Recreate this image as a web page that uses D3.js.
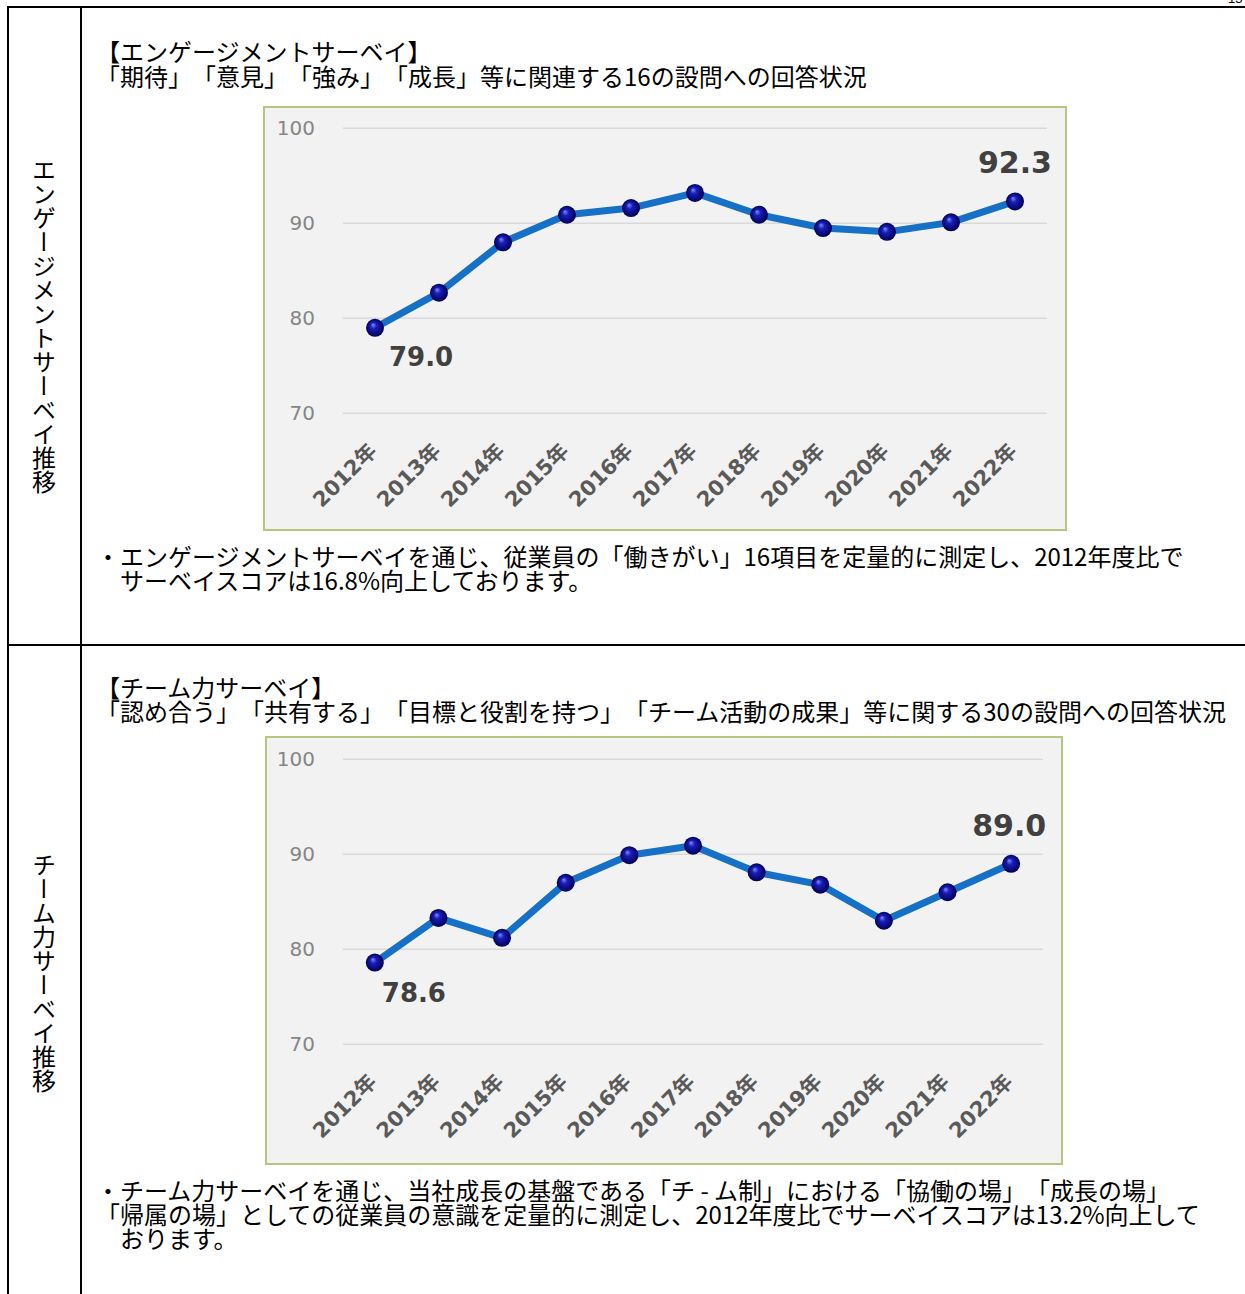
<!DOCTYPE html>
<html>
<head>
<meta charset="utf-8">
<script src="https://cdn.jsdelivr.net/npm/d3@7"></script>
<style>
 body { margin: 0; background: #fff; }
 svg text { font-family: "Noto Sans CJK JP", sans-serif; text-spacing-trim: space-all; }
</style>
</head>
<body>
<script>
 // values
 var years = ['2012年','2013年','2014年','2015年','2016年','2017年','2018年','2019年','2020年','2021年','2022年'];
 var engagementScores = [79.0, 82.7, 88.0, 90.9, 91.6, 93.2, 90.9, 89.5, 89.1, 90.1, 92.3];
 var teamScores = [78.6, 83.3, 81.2, 87.0, 89.9, 90.9, 88.1, 86.8, 83.0, 86.0, 89.0];
 var yTicks = [70, 80, 90, 100];
 var yDomain = [70, 100];

 var W = 1245, H = 1294;
 var lineBlue = '#1670c6';
 var frameGreen = '#b4c680';

 var svg = d3.select('body').append('svg')
     .attr('width', W)
     .attr('height', H);

 var defs = svg.append('defs');
 var grad = defs.append('radialGradient')
     .attr('id', 'ball')
     .attr('cx', '50%').attr('cy', '50%').attr('r', '50%')
     .attr('fx', '38%').attr('fy', '32%');
 grad.append('stop').attr('offset', '0%').attr('stop-color', '#7f8cff');
 grad.append('stop').attr('offset', '35%').attr('stop-color', '#1a1eb8');
 grad.append('stop').attr('offset', '100%').attr('stop-color', '#000055');

 // table frame
 var frame = svg.append('g').attr('stroke', '#000').attr('stroke-width', 2);
 frame.append('line').attr('x1', 7).attr('x2', W).attr('y1', 7).attr('y2', 7);
 frame.append('line').attr('x1', 7).attr('x2', W).attr('y1', 645).attr('y2', 645);
 frame.append('line').attr('x1', 8).attr('x2', 8).attr('y1', 6).attr('y2', H);
 frame.append('line').attr('x1', 81).attr('x2', 81).attr('y1', 6).attr('y2', H);

 // page number, clipped at the top edge like the source page
 svg.append('text').attr('x', 1228).attr('y', 3)
    .style('font-family', 'Liberation Sans').style('font-size', '13px').text('13');

 function vlabel(txt, y) {
     svg.append('text')
	.attr('x', 44).attr('y', y)
	.style('writing-mode', 'vertical-rl')
	.style('font-size', '24px')
	.attr('fill', '#000')
	.text(txt);
 }
 vlabel('エンゲージメントサーベイ推移', 158);
 vlabel('チーム力サーベイ推移', 853);

 function lines(rows) {
     rows.forEach(function(r) {
	 svg.append('text')
	    .attr('x', r[0]).attr('y', r[1])
	    .style('font-size', '24px')
	    .attr('fill', '#000')
	    .text(r[2]);
     });
 }

 lines([
     [96, 61, '【エンゲージメントサーベイ】'],
     [96, 86, '「期待」「意見」「強み」「成長」等に関連する16の設問への回答状況'],
     [96, 566, '・エンゲージメントサーベイを通じ、従業員の「働きがい」16項目を定量的に測定し、2012年度比で'],
     [120, 590, 'サーベイスコアは16.8%向上しております。'],
     [96, 697, '【チーム力サーベイ】'],
     [96, 721, '「認め合う」「共有する」「目標と役割を持つ」「チーム活動の成果」等に関する30の設問への回答状況'],
     [96, 1200, '・チーム力サーベイを通じ、当社成長の基盤である「チ - ム制」における「協働の場」「成長の場」'],
     [96, 1224, '「帰属の場」としての従業員の意識を定量的に測定し、2012年度比でサーベイスコアは13.2%向上して'],
     [120, 1248, 'おります。']
 ]);

 function drawChart(o) {
     var g = svg.append('g');

     g.append('rect')
      .attr('x', o.box[0]).attr('y', o.box[1])
      .attr('width', o.box[2]).attr('height', o.box[3])
      .attr('fill', '#f2f2f2')
      .attr('stroke', frameGreen)
      .attr('stroke-width', 2);

     var x = d3.scaleBand().domain(years).range(o.xRange);
     var y = d3.scaleLinear().domain(yDomain).range(o.yRange);
     var cx = function(d) { return x(d) + x.bandwidth() / 2; };

     // gridlines
     g.selectAll('line.grid')
      .data(yTicks)
      .enter()
      .append('line')
      .attr('class', 'grid')
      .attr('x1', o.xRange[0]).attr('x2', o.xRange[1])
      .attr('y1', function(d) { return y(d); })
      .attr('y2', function(d) { return y(d); })
      .attr('stroke', '#d9d9d9')
      .attr('stroke-width', 1.5);

     var yAxis = g.append('g')
		  .attr('transform', 'translate(' + o.xRange[0] + ',0)')
		  .call(d3.axisLeft(y).tickValues(yTicks).tickSize(0).tickPadding(28));
     yAxis.select('.domain').remove();
     yAxis.selectAll('text')
	  .style('font-family', 'DejaVu Sans')
	  .style('font-size', '20px')
	  .attr('fill', '#858585');

     var xAxis = g.append('g')
		  .attr('transform', 'translate(0,' + (o.yRange[0] + 39) + ')')
		  .call(d3.axisBottom(x).tickSize(0));
     xAxis.select('.domain').remove();
     xAxis.selectAll('text')
	  .attr('x', 0).attr('y', 0).attr('dy', 0)
	  .attr('text-anchor', 'end')
	  .attr('transform', 'translate(3,0) rotate(-45)')
	  .style('font-family', 'DejaVu Sans, Noto Sans CJK JP')
	  .style('font-weight', 'bold')
	  .style('font-size', '21px')
	  .attr('fill', '#5a5a5a');

     var pts = years.map(function(d, i) { return {year: d, v: o.values[i]}; });

     g.append('path')
      .datum(pts)
      .attr('d', d3.line()
		   .x(function(d) { return cx(d.year); })
		   .y(function(d) { return y(d.v); }))
      .attr('fill', 'none')
      .attr('stroke', lineBlue)
      .attr('stroke-width', 7)
      .attr('stroke-linejoin', 'round');

     g.selectAll('circle')
      .data(pts)
      .enter()
      .append('circle')
      .attr('cx', function(d) { return cx(d.year); })
      .attr('cy', function(d) { return y(d.v); })
      .attr('r', 9)
      .attr('fill', 'url(#ball)');

     var first = pts[0], last = pts[pts.length - 1];
     g.append('text')
      .attr('x', cx(first.year) + o.firstOff[0])
      .attr('y', y(first.v) + o.firstOff[1])
      .style('font-family', 'DejaVu Sans')
      .style('font-weight', 'bold')
      .style('font-size', '26px')
      .attr('fill', '#404040')
      .text(first.v.toFixed(1));
     g.append('text')
      .attr('x', cx(last.year) + o.lastOff[0])
      .attr('y', y(last.v) + o.lastOff[1])
      .attr('text-anchor', 'end')
      .style('font-family', 'DejaVu Sans')
      .style('font-weight', 'bold')
      .style('font-size', '30px')
      .attr('fill', '#404040')
      .text(last.v.toFixed(1));
 }

 drawChart({
     box: [264, 107, 802, 423],
     xRange: [343, 1047],
     yRange: [413.3, 128.3],
     values: engagementScores,
     firstOff: [14, 38],
     lastOff: [37, -28]
 });

 drawChart({
     box: [266, 737, 796, 427],
     xRange: [343, 1043],
     yRange: [1044.2, 759.3],
     values: teamScores,
     firstOff: [7, 39],
     lastOff: [35, -28]
 });
</script>
</body>
</html>
